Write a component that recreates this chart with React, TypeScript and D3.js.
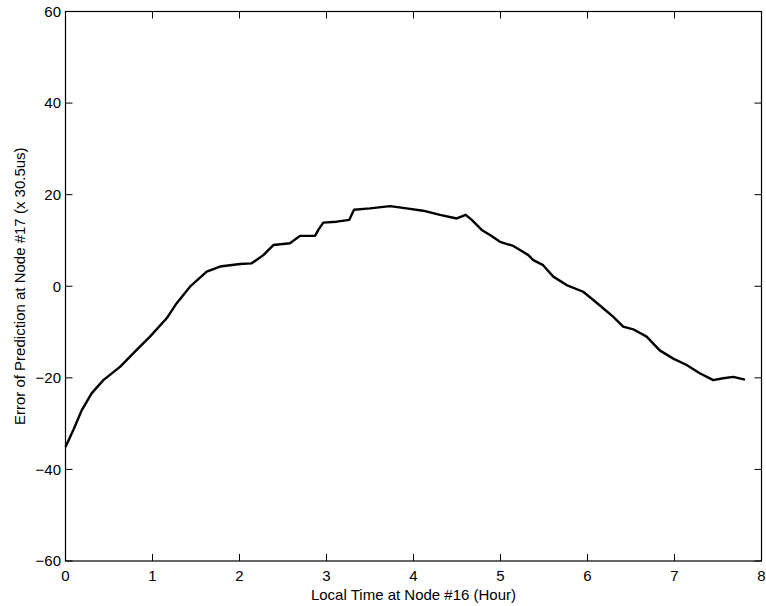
import React from "react";
import * as d3 from "d3";

// Local time at node #16 (hours)
const timeHours: number[] = [
  0, 0.09, 0.186, 0.30, 0.435, 0.626, 0.818, 0.971, 1.163, 1.278, 1.431, 1.623, 1.776,
  2.006, 2.14, 2.274, 2.389, 2.58, 2.695, 2.868, 2.906, 2.963, 3.117, 3.262, 3.316,
  3.5, 3.73, 3.92, 4.11, 4.305, 4.497, 4.60, 4.67, 4.784, 4.88, 4.994, 5.147, 5.224,
  5.32, 5.377, 5.49, 5.607, 5.76, 5.95, 6.067, 6.18, 6.297, 6.41, 6.525, 6.68, 6.83,
  6.986, 7.14, 7.29, 7.446, 7.56, 7.676, 7.81,
];
// Error of prediction at node #17 (x 30.5us)
const errorValues: number[] = [
  -35.1, -31.4, -27.1, -23.4, -20.5, -17.6, -13.9, -11.0, -7.0, -3.7, -0.1, 3.2, 4.3,
  4.85, 5.0, 6.8, 9.0, 9.4, 11.0, 11.0, 12.3, 13.9, 14.1, 14.5, 16.7,
  17.0, 17.5, 17.0, 16.5, 15.6, 14.8, 15.6, 14.5, 12.3, 11.2, 9.7, 8.8, 7.9,
  6.8, 5.7, 4.6, 2.1, 0.26, -1.2, -3.0, -4.8, -6.7, -8.8, -9.4, -11.0, -14.0,
  -15.8, -17.2, -19.0, -20.5, -20.1, -19.8, -20.4,
];
const xTicks: number[] = [0, 1, 2, 3, 4, 5, 6, 7, 8];
const yTicks: number[] = [-60, -40, -20, 0, 20, 40, 60];
const xLabel = "Local Time at Node #16 (Hour)";
const yLabel = "Error of Prediction at Node #17 (x 30.5us)";

const W = 766;
const H = 606;
const left = 65.5;
const right = 761.5;
const top = 11.5;
const bottom = 561;
const FONT = "'Liberation Sans', Arial, Helvetica, sans-serif";
const FS = 15;
const TICK = 7;

export default function App() {
  const x = d3.scaleLinear().domain([0, 8]).range([left, right]);
  const y = d3.scaleLinear().domain([-60, 60]).range([bottom, top]);
  const pts = timeHours.map((t, i) => [t, errorValues[i]] as [number, number]);
  const line = d3
    .line<[number, number]>()
    .x((d) => x(d[0]))
    .y((d) => y(d[1]));
  const fmt = (v: number) => (v < 0 ? "\u2212" + Math.abs(v) : String(v));

  return (
    <svg
      width={W}
      height={H}
      style={{ position: "absolute", left: 0, top: 0, background: "#fff" }}
      fontFamily={FONT}
    >
      <rect x={0} y={0} width={W} height={H} fill="#fff" />
      <path d={line(pts) || ""} fill="none" stroke="#000" strokeWidth={2.4} strokeLinejoin="round" />
      <rect
        x={left}
        y={top}
        width={right - left}
        height={bottom - top}
        fill="none"
        stroke="#000"
        strokeWidth={1.2}
      />
      {xTicks.map((t) => (
        <g key={"x" + t}>
          <line x1={x(t)} x2={x(t)} y1={bottom} y2={bottom - TICK} stroke="#000" strokeWidth={1} />
          <line x1={x(t)} x2={x(t)} y1={top} y2={top + TICK} stroke="#000" strokeWidth={1} />
          <text x={x(t)} y={580.5} fontSize={FS} textAnchor="middle" fill="#000">
            {fmt(t)}
          </text>
        </g>
      ))}
      {yTicks.map((v) => (
        <g key={"y" + v}>
          <line x1={left} x2={left + TICK} y1={y(v)} y2={y(v)} stroke="#000" strokeWidth={1} />
          <line x1={right} x2={right - TICK} y1={y(v)} y2={y(v)} stroke="#000" strokeWidth={1} />
          <text x={61} y={y(v)} dy="0.36em" fontSize={FS} textAnchor="end" fill="#000">
            {fmt(v)}
          </text>
        </g>
      ))}
      <text x={(left + right) / 2} y={600} fontSize={FS} textAnchor="middle" fill="#000">
        {xLabel}
      </text>
      <text
        transform={`translate(25, ${(top + bottom) / 2}) rotate(-90)`}
        fontSize={FS}
        textAnchor="middle"
        fill="#000"
      >
        {yLabel}
      </text>
    </svg>
  );
}
